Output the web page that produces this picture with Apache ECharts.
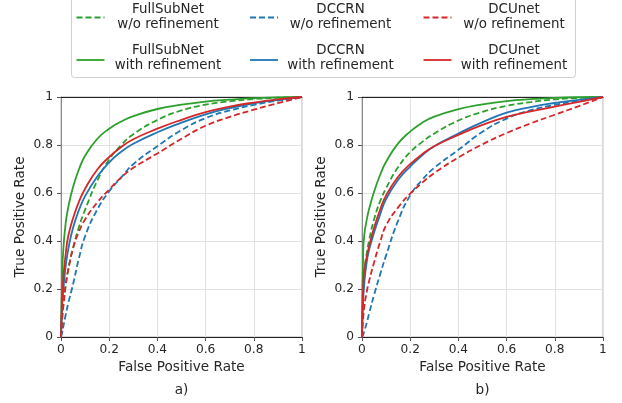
<!DOCTYPE html>
<html><head><meta charset="utf-8">
<script src="https://cdn.jsdelivr.net/npm/echarts@6/dist/echarts.min.js"></script>
<style>html,body{margin:0;padding:0;background:#fff}#c{width:622px;height:403px}</style>
</head><body><div id="c"></div><script>
// shared false-positive-rate sample points
const FPR = [0, 0.005, 0.01, 0.02, 0.03, 0.05, 0.075, 0.1, 0.15, 0.2, 0.25, 0.3, 0.4, 0.5, 0.6, 0.7, 0.8, 0.9, 1];

// panel a) true positive rates
const a_fsn_wo   = [0, 0.08, 0.14, 0.22, 0.28, 0.37, 0.46, 0.53, 0.65, 0.74, 0.80, 0.845, 0.904, 0.944, 0.968, 0.982, 0.991, 0.997, 1];
const a_fsn_w    = [0, 0.27, 0.37, 0.48, 0.54, 0.625, 0.70, 0.755, 0.825, 0.868, 0.898, 0.92, 0.95, 0.968, 0.981, 0.989, 0.995, 0.998, 1];
const a_dccrn_wo = [0, 0.02, 0.045, 0.095, 0.14, 0.22, 0.33, 0.42, 0.53, 0.607, 0.665, 0.72, 0.795, 0.862, 0.912, 0.944, 0.967, 0.985, 1];
const a_dccrn_w  = [0, 0.13, 0.20, 0.30, 0.365, 0.455, 0.53, 0.587, 0.668, 0.728, 0.772, 0.805, 0.853, 0.893, 0.928, 0.954, 0.974, 0.988, 1];
const a_dcu_wo   = [0, 0.08, 0.13, 0.22, 0.28, 0.37, 0.44, 0.49, 0.56, 0.615, 0.665, 0.705, 0.765, 0.826, 0.88, 0.917, 0.947, 0.974, 1];
const a_dcu_w    = [0, 0.16, 0.25, 0.35, 0.42, 0.495, 0.565, 0.618, 0.697, 0.75, 0.792, 0.824, 0.868, 0.905, 0.937, 0.96, 0.977, 0.99, 1];

// panel b) true positive rates
const b_fsn_wo   = [0, 0.2, 0.28, 0.35, 0.405, 0.49, 0.565, 0.62, 0.708, 0.77, 0.813, 0.848, 0.902, 0.938, 0.963, 0.979, 0.99, 0.996, 1];
const b_fsn_w    = [0, 0.36, 0.43, 0.49, 0.535, 0.605, 0.675, 0.73, 0.807, 0.856, 0.893, 0.918, 0.949, 0.969, 0.983, 0.991, 0.996, 0.999, 1];
const b_dccrn_wo = [0, 0.01, 0.025, 0.06, 0.10, 0.175, 0.26, 0.34, 0.485, 0.59, 0.655, 0.705, 0.78, 0.855, 0.91, 0.945, 0.967, 0.985, 1];
const b_dccrn_w  = [0, 0.15, 0.23, 0.315, 0.365, 0.435, 0.51, 0.575, 0.655, 0.71, 0.757, 0.795, 0.848, 0.895, 0.935, 0.958, 0.975, 0.988, 1];
const b_dcu_wo   = [0, 0.08, 0.13, 0.19, 0.235, 0.31, 0.395, 0.465, 0.54, 0.597, 0.643, 0.683, 0.748, 0.803, 0.85, 0.89, 0.926, 0.962, 1];
const b_dcu_w    = [0, 0.22, 0.28, 0.335, 0.38, 0.455, 0.53, 0.59, 0.668, 0.72, 0.762, 0.795, 0.842, 0.884, 0.917, 0.94, 0.96, 0.98, 1];

const MODELS = ['FullSubNet', 'DCCRN', 'DCUnet'];
const VARIANTS = ['w/o refinement', 'with refinement'];
const PANEL_LABELS = ['a)', 'b)'];
const X_NAME = 'False Positive Rate';
const Y_NAME = 'True Positive Rate';

const PANELS = [
  [[a_fsn_wo, a_fsn_w], [a_dccrn_wo, a_dccrn_w], [a_dcu_wo, a_dcu_w]],
  [[b_fsn_wo, b_fsn_w], [b_dccrn_wo, b_dccrn_w], [b_dcu_wo, b_dcu_w]]
];

const COLORS = ['#2ca02c', '#1f77b4', '#d62728'];
const DASH = [6, 3];
const FONT = 'DejaVu Sans';
const TXT = '#262626';

const GRID_LEFT = [61, 362];
const grids = GRID_LEFT.map(l => ({left: l, top: 97, width: 241, height: 240, show: true, borderColor: '#b5b5b5', borderWidth: 1, backgroundColor: 'transparent'}));

const fmt = v => (v === 0 ? '0' : v === 1 ? '1' : (+v.toFixed(1)).toString());
const xAxes = [], yAxes = [];
GRID_LEFT.forEach((l, gi) => {
  xAxes.push({
    gridIndex: gi, type: 'value', min: 0, max: 1, interval: 0.2,
    name: X_NAME, nameLocation: 'middle', nameGap: 23,
    nameTextStyle: {fontFamily: FONT, fontSize: 13.6, color: TXT},
    axisLine: {show: true, onZero: false, lineStyle: {color: '#222', width: 1}},
    axisTick: {show: true, inside: false, length: 4, lineStyle: {color: '#555'}},
    axisLabel: {fontFamily: FONT, fontSize: 12.2, color: TXT, margin: 7, formatter: fmt},
    splitLine: {show: true, lineStyle: {color: '#e2e2e2', width: 1}}
  });
  xAxes.push({
    gridIndex: gi, type: 'value', min: 0, max: 1, position: 'top',
    axisLine: {show: true, onZero: false, lineStyle: {color: '#222', width: 1}},
    axisTick: {show: false}, axisLabel: {show: false}, splitLine: {show: false}
  });
  yAxes.push({
    gridIndex: gi, type: 'value', min: 0, max: 1, interval: 0.2,
    name: Y_NAME, nameLocation: 'middle', nameGap: 33.5,
    nameTextStyle: {fontFamily: FONT, fontSize: 13.6, color: TXT},
    axisLine: {show: true, onZero: false, lineStyle: {color: '#8a8a8a', width: 1}},
    axisTick: {show: true, inside: false, length: 4, lineStyle: {color: '#555'}},
    axisLabel: {fontFamily: FONT, fontSize: 12.2, color: TXT, margin: 8, formatter: fmt},
    splitLine: {show: true, lineStyle: {color: '#e2e2e2', width: 1}}
  });
});

const series = [];
PANELS.forEach((panel, gi) => {
  panel.forEach((pair, mi) => {
    pair.forEach((tpr, vi) => {
      series.push({
        type: 'line', name: MODELS[mi] + ' ' + VARIANTS[vi],
        xAxisIndex: gi * 2, yAxisIndex: gi,
        data: FPR.map((x, i) => [x, tpr[i]]),
        showSymbol: false, symbol: 'none', smooth: 0.5,
        lineStyle: {color: COLORS[mi], width: 1.8, type: vi === 0 ? DASH : 'solid'},
        silent: true, animation: false, z: 3
      });
    });
  });
});

// legend drawn as graphic (3 columns x 2 rows)
const graphic = [{
  type: 'rect', shape: {x: 71.5, y: -3, width: 504, height: 80.5, r: 3},
  style: {fill: '#fff', stroke: '#d0d0d0', lineWidth: 1}, z: 10
}];
const COL_LINE_X = [76.5, 250, 423.5];
const COL_TEXT_X = [168, 340.5, 514];
const ROW_LINE_Y = [17.5, 60];
const ROW_TEXT_Y = [16.8, 58.3];
MODELS.forEach((m, ci) => {
  VARIANTS.forEach((v, ri) => {
    graphic.push({
      type: 'line', z: 11,
      shape: {x1: COL_LINE_X[ci], y1: ROW_LINE_Y[ri], x2: COL_LINE_X[ci] + 28, y2: ROW_LINE_Y[ri]},
      style: {stroke: COLORS[ci], lineWidth: 1.8, lineDash: ri === 0 ? DASH : null}
    });
    graphic.push({
      type: 'text', z: 11, x: COL_TEXT_X[ci], y: ROW_TEXT_Y[ri],
      style: {text: m + '\n' + v, fill: TXT, font: '13.4px "DejaVu Sans"', align: 'center', verticalAlign: 'middle', lineHeight: 15}
    });
  });
});
[181.5, 482.5].forEach((cx, i) => {
  graphic.push({
    type: 'text', z: 11, x: cx, y: 390,
    style: {text: PANEL_LABELS[i], fill: TXT, font: '13.6px "DejaVu Sans"', align: 'center', verticalAlign: 'middle'}
  });
});

const chart = echarts.init(document.getElementById('c'), null, {renderer: 'canvas'});
chart.setOption({
  animation: false, backgroundColor: '#fff',
  textStyle: {fontFamily: FONT},
  grid: grids, xAxis: xAxes, yAxis: yAxes, series: series, graphic: graphic
});
</script></body></html>
